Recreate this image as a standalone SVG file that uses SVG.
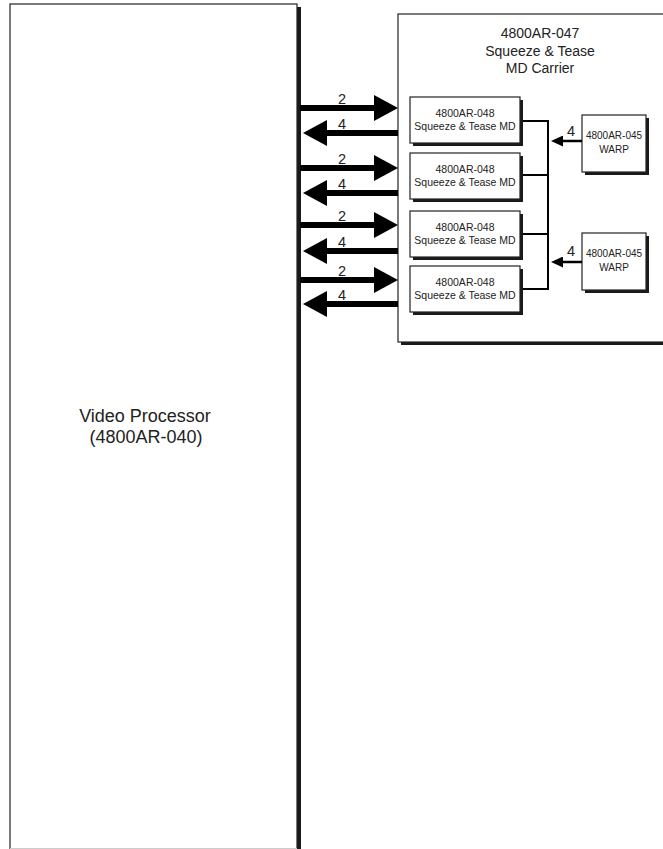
<svg xmlns="http://www.w3.org/2000/svg" width="663" height="849" viewBox="0 0 663 849">
<style>
  .bg{fill:#fff}
  .box{fill:#fff;stroke:#222;stroke-width:1.2}
  .shadow{fill:#1a1a1a}
  .t{font-family:"Liberation Sans",Arial,sans-serif;fill:#222;text-anchor:middle}
  .big{font-size:18px}
  .car{font-size:14px}
  .md{font-size:10.5px}
  .warp{font-size:10px}
  .lbl{font-size:14.5px}
  .fat{stroke:#000;stroke-width:6;fill:none}
  .bus{stroke:#000;stroke-width:2;fill:none}
  .thin{stroke:#000;stroke-width:2.5;fill:none}
</style>
<defs>
  <marker id="bigHead" viewBox="0 0 24 26" refX="1" refY="13" markerWidth="24" markerHeight="26" markerUnits="userSpaceOnUse" orient="auto">
    <path d="M0,0 L24,13 L0,26 z" fill="#000"/>
  </marker>
  <marker id="smallHead" viewBox="0 0 12 11" refX="1" refY="5.5" markerWidth="12" markerHeight="11" markerUnits="userSpaceOnUse" orient="auto">
    <path d="M0,0 L12,5.5 L0,11 z" fill="#000"/>
  </marker>
</defs>
<rect class="bg" x="0" y="0" width="663" height="849"/>

<g id="video-processor">
  <rect class="shadow" x="13" y="7" width="288" height="850"/>
  <rect class="box" x="10" y="4" width="287" height="850" stroke="#333"/>
  <line x1="10" y1="848.5" x2="297" y2="848.5" stroke="#ccc" stroke-width="1"/>
  <text class="t big" x="145" y="422">Video Processor</text>
  <text class="t big" x="146" y="443">(4800AR-040)</text>
</g>

<g id="md-carrier">
  <rect class="shadow" x="401" y="17" width="290" height="328"/>
  <rect class="box" x="398" y="14" width="290" height="328" stroke="#444"/>
  <text class="t car" x="540" y="38">4800AR-047</text>
  <text class="t car" x="540" y="55.5">Squeeze &amp; Tease</text>
  <text class="t car" x="540" y="73">MD Carrier</text>
</g>

<g id="md1">
  <rect class="shadow" x="413" y="100" width="110" height="46"/>
  <rect class="box" x="410" y="97" width="110" height="46"/>
  <text class="t md" x="465" y="117">4800AR-048</text>
  <text class="t md" x="465" y="130">Squeeze &amp; Tease MD</text>
</g>
<g id="md2">
  <rect class="shadow" x="413" y="156" width="110" height="46"/>
  <rect class="box" x="410" y="153" width="110" height="46"/>
  <text class="t md" x="465" y="173">4800AR-048</text>
  <text class="t md" x="465" y="186">Squeeze &amp; Tease MD</text>
</g>
<g id="md3">
  <rect class="shadow" x="413" y="214" width="110" height="46"/>
  <rect class="box" x="410" y="211" width="110" height="46"/>
  <text class="t md" x="465" y="231">4800AR-048</text>
  <text class="t md" x="465" y="244">Squeeze &amp; Tease MD</text>
</g>
<g id="md4">
  <rect class="shadow" x="413" y="269" width="110" height="46"/>
  <rect class="box" x="410" y="266" width="110" height="46"/>
  <text class="t md" x="465" y="286">4800AR-048</text>
  <text class="t md" x="465" y="299">Squeeze &amp; Tease MD</text>
</g>

<g id="warp1">
  <rect class="shadow" x="585" y="118" width="64" height="57"/>
  <rect class="box" x="582" y="115" width="64" height="57"/>
  <text class="t warp" x="614" y="139">4800AR-045</text>
  <text class="t warp" x="614" y="153">WARP</text>
</g>
<g id="warp2">
  <rect class="shadow" x="585" y="236" width="64" height="57"/>
  <rect class="box" x="582" y="233" width="64" height="57"/>
  <text class="t warp" x="614" y="257">4800AR-045</text>
  <text class="t warp" x="614" y="271">WARP</text>
</g>

<g id="connectors">
  <line class="fat" x1="300" y1="108" x2="375" y2="108" marker-end="url(#bigHead)"/>
  <line class="fat" x1="398" y1="133" x2="326" y2="133" marker-end="url(#bigHead)"/>
  <line class="fat" x1="300" y1="168" x2="375" y2="168" marker-end="url(#bigHead)"/>
  <line class="fat" x1="398" y1="193" x2="326" y2="193" marker-end="url(#bigHead)"/>
  <line class="fat" x1="300" y1="225" x2="375" y2="225" marker-end="url(#bigHead)"/>
  <line class="fat" x1="398" y1="251" x2="326" y2="251" marker-end="url(#bigHead)"/>
  <line class="fat" x1="300" y1="280" x2="375" y2="280" marker-end="url(#bigHead)"/>
  <line class="fat" x1="398" y1="304" x2="326" y2="304" marker-end="url(#bigHead)"/>

  <text class="t lbl" x="342" y="104">2</text>
  <text class="t lbl" x="342" y="129">4</text>
  <text class="t lbl" x="342" y="164">2</text>
  <text class="t lbl" x="342" y="189">4</text>
  <text class="t lbl" x="342" y="221">2</text>
  <text class="t lbl" x="342" y="247">4</text>
  <text class="t lbl" x="342" y="276">2</text>
  <text class="t lbl" x="342" y="300">4</text>

  <path class="bus" d="M523,121 H548 M523,175 H548 M523,234 H548 M523,289 H548 M548,120 V290"/>

  <line class="thin" x1="582" y1="141" x2="562" y2="141" marker-end="url(#smallHead)"/>
  <line class="thin" x1="582" y1="262" x2="562" y2="262" marker-end="url(#smallHead)"/>
  <text class="t lbl" x="571" y="136">4</text>
  <text class="t lbl" x="571" y="256">4</text>
</g>
</svg>
